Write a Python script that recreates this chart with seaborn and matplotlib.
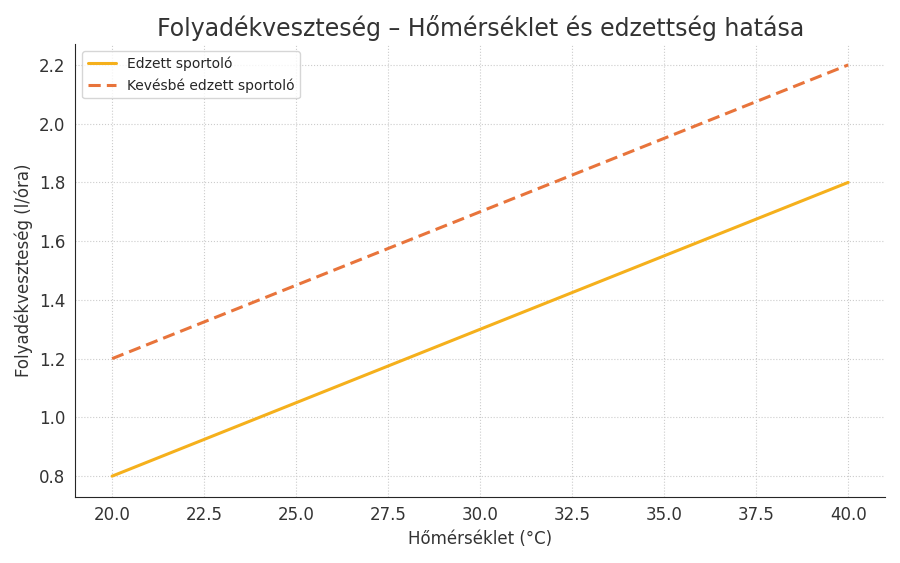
import matplotlib
matplotlib.use("Agg")
import matplotlib.pyplot as plt
import seaborn as sns
import pandas as pd

# values
homerseklet = [20, 25, 30, 35, 40]
edzett = [0.8, 1.05, 1.3, 1.55, 1.8]
kevesbe_edzett = [1.2, 1.45, 1.7, 1.95, 2.2]

df = pd.DataFrame({
    "Hőmérséklet": homerseklet * 2,
    "Veszteség": edzett + kevesbe_edzett,
    "Csoport": ["Edzett sportoló"] * 5 + ["Kevésbé edzett sportoló"] * 5,
})

sns.set_style("white")
plt.rcParams["font.family"] = ["DejaVu Sans"]

fig, ax = plt.subplots(figsize=(9, 5.63), dpi=100)
sns.lineplot(data=df, x="Hőmérséklet", y="Veszteség", hue="Csoport", style="Csoport",
             palette=["#F5B01C", "#E8743B"], dashes=[(None, None), (4, 2)],
             linewidth=2.2, ax=ax)

ax.set_title("Folyadékveszteség – Hőmérséklet és edzettség hatása", fontsize=17, color="#333333")
ax.set_xlabel("Hőmérséklet (°C)", fontsize=12, color="#333333")
ax.set_ylabel("Folyadékveszteség (l/óra)", fontsize=12, color="#333333")
ax.set_xticks([20, 22.5, 25, 27.5, 30, 32.5, 35, 37.5, 40])
ax.set_xticklabels([f"{v:.1f}" for v in ax.get_xticks()])
ax.set_yticks([0.8, 1.0, 1.2, 1.4, 1.6, 1.8, 2.0, 2.2])
ax.set_yticklabels([f"{v:.1f}" for v in ax.get_yticks()])
ax.tick_params(labelsize=12, colors="#333333")
ax.grid(True, linestyle=":", color="#cccccc", linewidth=0.8)
ax.set_xlim(19, 41)
ax.set_ylim(0.73, 2.27)
sns.despine(ax=ax)

leg = ax.legend(loc="upper left", fontsize=10, frameon=True)
leg.set_title(None)

fig.tight_layout()
fig.savefig("out.png", dpi=100)
